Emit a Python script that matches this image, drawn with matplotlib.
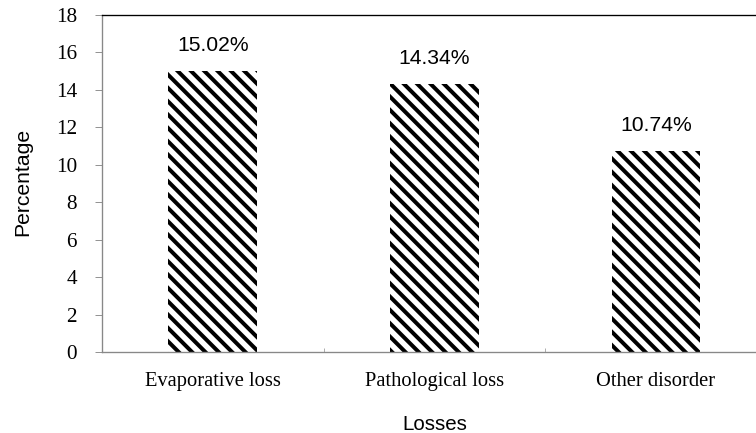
import matplotlib.pyplot as plt

# dados do gráfico
categorias = ["Evaporative loss", "Pathological loss", "Other disorder"]
valores = [15.02, 14.34, 10.74]
rotulos = ["15.02%", "14.34%", "10.74%"]
yticks = [0, 2, 4, 6, 8, 10, 12, 14, 16, 18]

plt.rcParams['hatch.linewidth'] = 3.6

fig = plt.figure(figsize=(9.45, 5.4125), dpi=80)
ax = fig.add_axes([0.1349, 0.187, 0.8793, 0.7784])

x = range(len(categorias))
barras = ax.bar(x, valores, width=0.4, color="white", edgecolor="black",
                hatch="\\\\", linewidth=0)

# rótulos de valor acima das barras
for xi, v, r in zip(x, valores, rotulos):
    ax.annotate(r, (xi, v), xytext=(0, 22.5), textcoords="offset points",
                ha="center", va="center", fontsize=19,
                family="Liberation Sans")

ax.set_xlim(-0.5, len(categorias) - 0.5)
ax.set_ylim(0, 18)
ax.set_yticks(yticks)
ax.set_yticklabels([str(t) for t in yticks], family="Liberation Serif",
                   fontsize=19)
ax.set_xticks(list(x))
ax.set_xticklabels(categorias, family="Liberation Serif", fontsize=18.5)
ax.tick_params(axis="x", length=0, pad=18)
ax.set_xticks([0.5, 1.5], minor=True)
ax.tick_params(axis="x", which="minor", direction="in", length=4,
               color="#888888")
ax.tick_params(axis="y", direction="out", length=6, color="#888888", pad=16.5)

for lado in ["left", "bottom"]:
    ax.spines[lado].set_color("#888888")
    ax.spines[lado].set_linewidth(1.2)
ax.spines["top"].set_color("black")
ax.spines["top"].set_linewidth(1.2)
ax.spines["right"].set_visible(False)

ax.set_ylabel("Percentage", family="Liberation Sans", fontsize=19, va="center")
ax.set_xlabel("Losses", family="Liberation Sans", fontsize=18.5, va="center")
ax.yaxis.set_label_coords(-0.119, 0.505)
ax.xaxis.set_label_coords(0.5, -0.215)

fig.savefig("out.png", dpi=80)
